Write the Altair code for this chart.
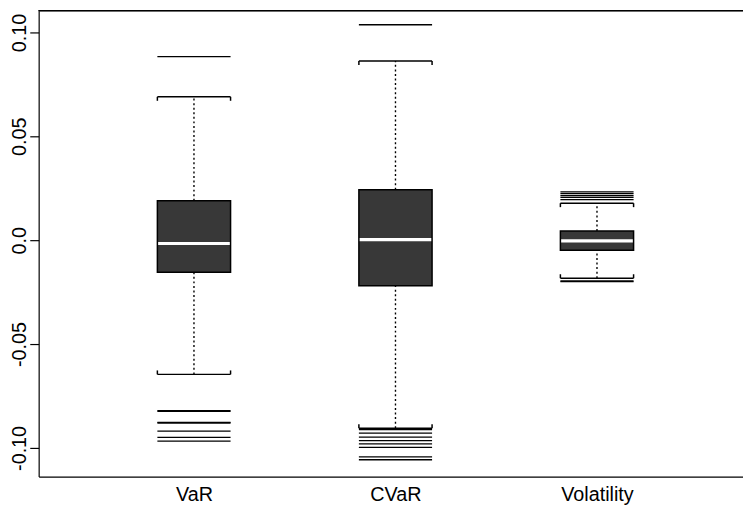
import json
import altair as alt
import pandas as pd

# ---------------- data ----------------
groups = ["VaR", "CVaR", "Volatility"]
q1 = [-0.0154, -0.0219, -0.0049]
median = [-0.0016, 0.0003, -0.0003]
q3 = [0.0190, 0.0243, 0.0044]
whisker_low = [-0.0646, -0.0905, -0.0183]
whisker_high = [0.0690, 0.0862, 0.0178]

outliers_var = [0.0884, -0.0821, -0.0824, -0.0877, -0.0880, -0.0919, -0.0949, -0.0967]
outliers_cvar = [0.1037, -0.0912, -0.0929, -0.0948, -0.0965, -0.0981, -0.0997, -0.1043, -0.1057]
outliers_vol = [0.0233, 0.0224, 0.0214, 0.0206, 0.0195, -0.0196, -0.0200]

y_ticks = [-0.10, -0.05, 0.0, 0.05, 0.10]
y_labels = ["-0.10", "-0.05", "0.0", "0.05", "0.10"]

# ---------------- layout / style ----------------
W, H = 712, 471
X_DOMAIN = [0.2293, 3.7246]
Y_DOMAIN = [-0.11381, 0.11048]
HALF = 0.1816          # half box width (x units)
END = 0.0019           # bracket end length (y units)
FONT = "Liberation Sans"

boxes = pd.DataFrame({
    "group": groups,
    "pos": list(range(1, len(groups) + 1)),
    "q1": q1, "med": median, "q3": q3,
    "lo": whisker_low, "hi": whisker_high,
})
boxes["xl"] = boxes["pos"] - HALF
boxes["xr"] = boxes["pos"] + HALF

out_rows = []
for g, vals in zip(groups, [outliers_var, outliers_cvar, outliers_vol]):
    for v in vals:
        out_rows.append({"group": g, "value": v})
outs = pd.DataFrame(out_rows)
outs["pos"] = outs["group"].map({g: i + 1 for i, g in enumerate(groups)})
outs["xl"] = outs["pos"] - HALF
outs["xr"] = outs["pos"] + HALF

ends_rows = []
for _, r in boxes.iterrows():
    for xe in (r["xl"], r["xr"]):
        ends_rows.append({"x": xe, "y": r["hi"], "y2": r["hi"] - END})
        ends_rows.append({"x": xe, "y": r["lo"], "y2": r["lo"] + END})
ends = pd.DataFrame(ends_rows)

x_label_expr = f"{json.dumps(groups)}[datum.value - 1]"
y_label_expr = f"{json.dumps(y_labels)}[indexof({json.dumps(y_ticks)}, datum.value)]"

xscale = alt.Scale(domain=X_DOMAIN, nice=False, zero=False)
yscale = alt.Scale(domain=Y_DOMAIN, nice=False, zero=False)

xaxis = alt.Axis(values=[1, 2, 3], labelExpr=x_label_expr, title=None, grid=False,
                 ticks=False, tickSize=0, domainColor="black", domainWidth=1.2,
                 labelFont=FONT, labelFontSize=20, labelColor="black", labelPadding=8)
yaxis = alt.Axis(values=y_ticks, labelExpr=y_label_expr, title=None, grid=False,
                 tickSize=9, tickColor="black", tickWidth=1.2,
                 domainColor="black", domainWidth=1.2,
                 labelFont=FONT, labelFontSize=20, labelColor="black",
                 labelAngle=270, labelAlign="center", labelBaseline="alphabetic",
                 labelPadding=4, labelOverlap=False)

base_b = alt.Chart(boxes)

whisk_up = base_b.mark_rule(color="black", strokeWidth=1.4, strokeDash=[2, 2.6]).encode(
    x=alt.X("pos:Q", scale=xscale, axis=xaxis),
    y=alt.Y("q3:Q", scale=yscale, axis=yaxis),
    y2="hi:Q",
)
whisk_dn = base_b.mark_rule(color="black", strokeWidth=1.4, strokeDash=[2, 2.6]).encode(
    x="pos:Q", y="lo:Q", y2="q1:Q",
)
cap_hi = base_b.mark_rule(color="black", strokeWidth=1.5).encode(
    x="xl:Q", x2="xr:Q", y="hi:Q",
)
cap_lo = base_b.mark_rule(color="black", strokeWidth=1.5).encode(
    x="xl:Q", x2="xr:Q", y="lo:Q",
)
cap_ends = alt.Chart(ends).mark_rule(color="black", strokeWidth=1.5).encode(
    x="x:Q", y="y:Q", y2="y2:Q",
)
box_fill = base_b.mark_rect(fill="#383838", strokeWidth=0).encode(
    x="xl:Q", x2="xr:Q", y="q1:Q", y2="q3:Q",
)
med = base_b.mark_rule(color="white", strokeWidth=3.2).encode(
    x="xl:Q", x2="xr:Q", y="med:Q",
)
box_line = base_b.mark_rect(fill=None, fillOpacity=0, stroke="black", strokeWidth=1.5).encode(
    x="xl:Q", x2="xr:Q", y="q1:Q", y2="q3:Q",
)
out_lines = alt.Chart(outs).mark_rule(color="black", strokeWidth=1.3).encode(
    x="xl:Q", x2="xr:Q", y="value:Q",
)
top_frame = alt.Chart(boxes).mark_rule(color="black", strokeWidth=1.2).encode(
    x=alt.value(0), x2=alt.value(W), y=alt.value(0),
)

chart = alt.layer(
    whisk_up, whisk_dn, cap_hi, cap_lo, cap_ends, box_fill, med, box_line, out_lines, top_frame
).properties(
    width=W, height=H,
    autosize=alt.AutoSizeParams(type="none"),
    padding={"left": 31, "top": 0, "right": 0, "bottom": 26},
    background="white",
).configure_view(stroke=None)

chart.save("out.html", embed_options={"renderer": "svg", "actions": False})
